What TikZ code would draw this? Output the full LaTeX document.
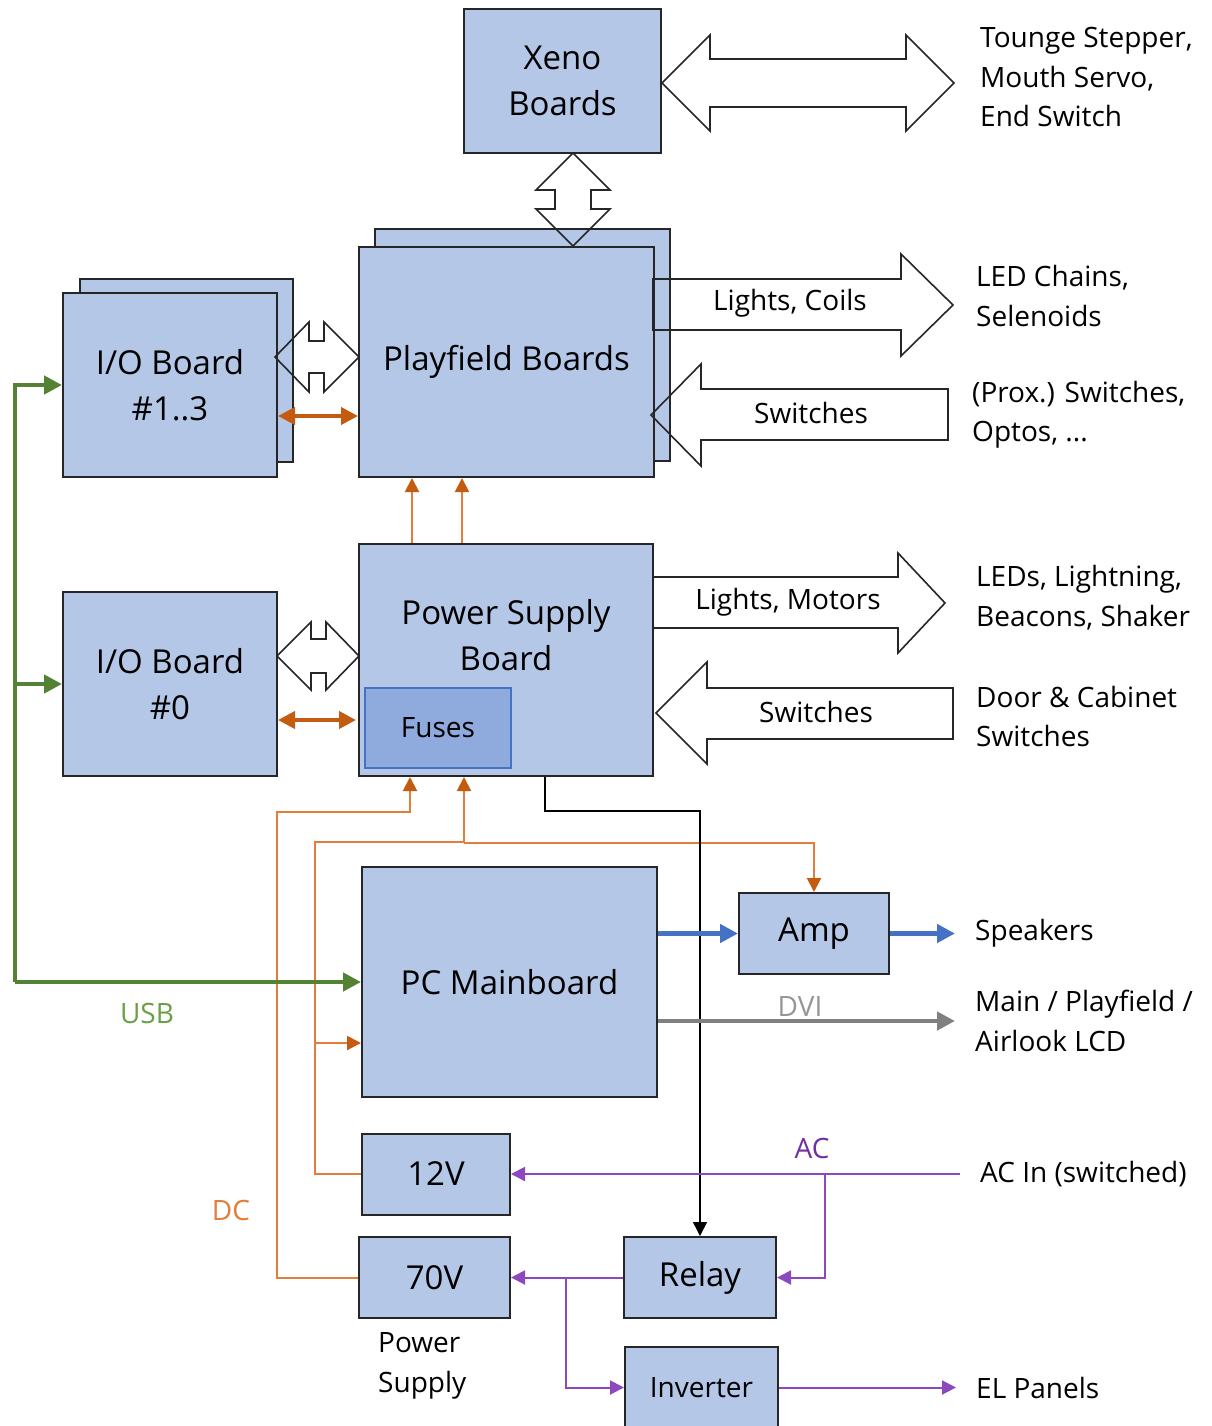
\documentclass[tikz,border=0pt]{standalone}
\usepackage{fontspec}
\setmainfont{Open Sans}
\usetikzlibrary{arrows.meta,calc}
\definecolor{boxfill}{RGB}{180,199,231}
\definecolor{boxline}{RGB}{38,38,38}
\definecolor{fusefill}{RGB}{143,170,220}
\definecolor{fuseline}{RGB}{68,114,196}
\definecolor{dcorange}{RGB}{226,125,58}
\definecolor{dcdark}{RGB}{197,90,17}
\definecolor{usbgreen}{RGB}{84,130,53}
\definecolor{usbtext}{RGB}{106,159,69}
\definecolor{audblue}{RGB}{68,114,196}
\definecolor{dvigray}{RGB}{128,128,128}
\definecolor{dvitext}{RGB}{150,150,150}
\definecolor{acpurple}{RGB}{142,72,190}
\definecolor{actext}{RGB}{112,48,160}
\newcommand\BoxFont{\fontsize{33}{46}\selectfont}
\newcommand\LblFont{\fontsize{28}{39.5}\selectfont}
\tikzset{
  box/.style={draw=boxline, fill=boxfill, line width=2pt, inner sep=0pt, font=\BoxFont, align=center, text=black},
  lbl/.style={font=\LblFont, anchor=west, align=left, inner xsep=20pt, inner ysep=0pt, text=black},
  blockarrow/.style={draw=boxline, line width=1.6pt, line join=miter},
  dc/.style={draw=dcorange, line width=2pt, -{Triangle[length=14pt,width=14pt]}, arrows={[color=dcdark]}},
  dcthick/.style={draw=dcdark, line width=4pt, {Triangle[length=17pt,width=17pt]}-{Triangle[length=17pt,width=17pt]}},
  usb/.style={draw=usbgreen, line width=4.5pt, -{Triangle[length=18pt,width=18pt]}},
  aud/.style={draw=audblue, line width=4.5pt, -{Triangle[length=18pt,width=18pt]}},
  dvi/.style={draw=dvigray, line width=4.5pt, -{Triangle[length=18pt,width=18pt]}},
  ac/.style={draw=acpurple, line width=2pt, -{Triangle[length=14pt,width=14pt]}},
  ctl/.style={draw=black, line width=1.5pt, -{Triangle[length=14pt,width=14pt]}},
}
\begin{document}
\begin{tikzpicture}[x=1pt,y=-1pt]
\useasboundingbox (0,0) rectangle (1211,1426);
% ---------- boxes ----------
\node[box, minimum width=197pt, minimum height=144pt] (xeno) at (562.5,81) {Xeno\\Boards};
\node[box, minimum width=295pt, minimum height=232pt] (pfback) at (522.5,345) {};
\node[box, minimum width=295pt, minimum height=230pt] (pf) at (506.5,362) {Playfield Boards};
\node[box, minimum width=213pt, minimum height=183pt] (io1back) at (186.5,370.5) {};
\node[box, minimum width=214pt, minimum height=184pt] (io1) at (170,385) {I/O Board\\\#1..3};
\node[box, minimum width=214pt, minimum height=184pt] (io0) at (170,684) {I/O Board\\\#0};
\node[box, minimum width=294pt, minimum height=232pt] (psb) at (506,660) {};
\node[font=\BoxFont, align=center, inner sep=0pt] (psbt) at (506,635) {Power Supply\\Board};
\node[box, draw=fuseline, fill=fusefill, line width=1.6pt, font=\LblFont, minimum width=146pt, minimum height=80pt] (fuses) at (438,728) {Fuses};
\node[box, minimum width=295pt, minimum height=230pt] (pc) at (509.5,982) {PC Mainboard};
\node[box, minimum width=150pt, minimum height=81pt] (amp) at (814,933.5) {Amp};
\node[box, minimum width=148pt, minimum height=81pt] (v12) at (436,1174) {12V};
\node[box, minimum width=151pt, minimum height=81pt] (v70) at (434.5,1277.5) {70V};
\node[box, minimum width=152pt, minimum height=81pt] (relay) at (700,1277.5) {Relay};
\node[box, minimum width=153pt, minimum height=81pt, font=\LblFont] (inverter) at (701.5,1387.5) {Inverter};
% ---------- right labels ----------
\node[lbl] (tounge) at (960,77) {Tounge Stepper,\\Mouth Servo,\\End Switch};
\node[lbl] (ledch) at (956,296) {LED Chains,\\Selenoids};
\node[lbl] (prox) at (952,414.5) {(Prox.) Switches,\\Optos, ...};
\node[lbl] (leds) at (956,597.5) {LEDs, Lightning,\\Beacons, Shaker};
\node[lbl] (door) at (956,716.5) {Door \& Cabinet\\Switches};
\node[lbl] (spk) at (955,933.5) {Speakers};
\node[lbl] (lcd) at (955,1021) {Main / Playfield /\\Airlook LCD};
\node[lbl] (acin) at (960,1174) {AC In (switched)};
\node[lbl] (el) at (956,1387.5) {EL Panels};
\node[lbl, inner xsep=0pt] (pslbl) at (378,1366) {Power\\Supply};
% ---------- block arrows ----------
% Xeno <-> outside
\draw[blockarrow] (662,83) -- (710,35) -- (710,59) -- (906,59) -- (906,35) -- (954,83) -- (906,131) -- (906,107) -- (710,107) -- (710,131) -- cycle;
% Xeno <-> Playfield (vertical)
\draw[blockarrow] (573,153) -- (610,190) -- (591,190) -- (591,209) -- (610,209) -- (573,246) -- (536,209) -- (555,209) -- (555,190) -- (536,190) -- cycle;
% IO1 <-> Playfield
\draw[blockarrow] (275,357) -- (309,322) -- (309,341) -- (324,341) -- (324,322) -- (359,357) -- (324,392) -- (324,373) -- (309,373) -- (309,392) -- cycle;
% IO0 <-> PSB
\draw[blockarrow] (277,656) -- (311,622) -- (311,639) -- (326,639) -- (326,622) -- (359,656) -- (326,690) -- (326,673) -- (311,673) -- (311,690) -- cycle;
% Lights, Coils
\draw[blockarrow] (653,279) -- (901,279) -- (901,254) -- (953,305) -- (901,356) -- (901,330) -- (653,330) -- cycle;
\node[font=\LblFont, inner sep=0pt] (lc) at (790,303) {Lights, Coils};
% Switches (playfield)
\draw[blockarrow] (948,389) -- (701,389) -- (701,364) -- (651,415) -- (701,466) -- (701,440) -- (948,440) -- cycle;
\node[font=\LblFont, inner sep=0pt] (sw1) at (811,413) {Switches};
% Lights, Motors
\draw[blockarrow] (653,577) -- (898,577) -- (898,553) -- (945,603) -- (898,653) -- (898,628) -- (653,628) -- cycle;
\node[font=\LblFont, inner sep=0pt] (lm) at (788,602) {Lights, Motors};
% Switches (PSB)
\draw[blockarrow] (953,688) -- (707,688) -- (707,662) -- (656,713) -- (707,764) -- (707,739) -- (953,739) -- cycle;
\node[font=\LblFont, inner sep=0pt] (sw2) at (816,712) {Switches};
% ---------- thick orange ----------
\draw[dcthick] ($(io1.east)+(0,31)$) -- ($(pf.west)+(0,54)$);
\draw[dcthick] ($(io0.east)+(0,36)$) -- ($(psb.west)+(-2,60)$);
% ---------- DC lines ----------
\draw[dc] ($(psb.north west)+(54,0)$) -- ($(pf.south west)+(54,0)$);
\draw[dc] ($(psb.north west)+(104,0)$) -- ($(pf.south west)+(104,0)$);
\coordinate (dcA) at (277,812);
\coordinate (dcB) at (315,842);
\coordinate (dcC) at (315,1043);
\draw[dc] (v70.west) -| (dcA) -| ($(psb.south west)+(52,0)$);
\draw[dc] (v12.west) -| (dcB) -| ($(psb.south west)+(106,0)$);
\draw[dc] ($(psb.south west)+(106,66)$) -| (amp.north);
\draw[dc] (dcC) -- (pc.west |- dcC);
\node[font=\LblFont, text=dcorange, inner sep=0pt] (dclbl) at (231,1210) {DC};
% ---------- USB ----------
\coordinate (usbc) at (15,982);
\draw[usb] (usbc) |- (io1.west);
\draw[usb] (usbc |- io0.west) -- (io0.west);
\draw[usb] (usbc) -- (pc.west);
\node[font=\LblFont, text=usbtext, inner sep=0pt] (usblbl) at (147,1013) {USB};
% ---------- control ----------
\coordinate (ctlA) at (545,811);
\draw[ctl] (psb.south -| ctlA) -- (ctlA) -| (relay.north);
% ---------- audio / video ----------
\draw[aud] (pc.east |- amp.west) -- (amp.west);
\draw[aud] (amp.east) -- (spk.west);
\draw[dvi] (pc.east |- lcd.west) -- (lcd.west);
\node[font=\LblFont, text=dvitext, inner sep=0pt] (dvilbl) at (800,1006) {DVI};
% ---------- AC ----------
\coordinate (acB) at (825,1174);
\coordinate (acC) at (566,1277.5);
\draw[ac] (acin.west) -- (v12.east);
\draw[ac] (acB) |- (relay.east);
\draw[ac] (relay.west) -- (v70.east);
\draw[ac] (acC) |- (inverter.west);
\draw[ac] (inverter.east) -- (el.west);
\node[font=\LblFont, text=actext, inner sep=0pt] (aclbl) at (812,1148) {AC};
\end{tikzpicture}
\end{document}
